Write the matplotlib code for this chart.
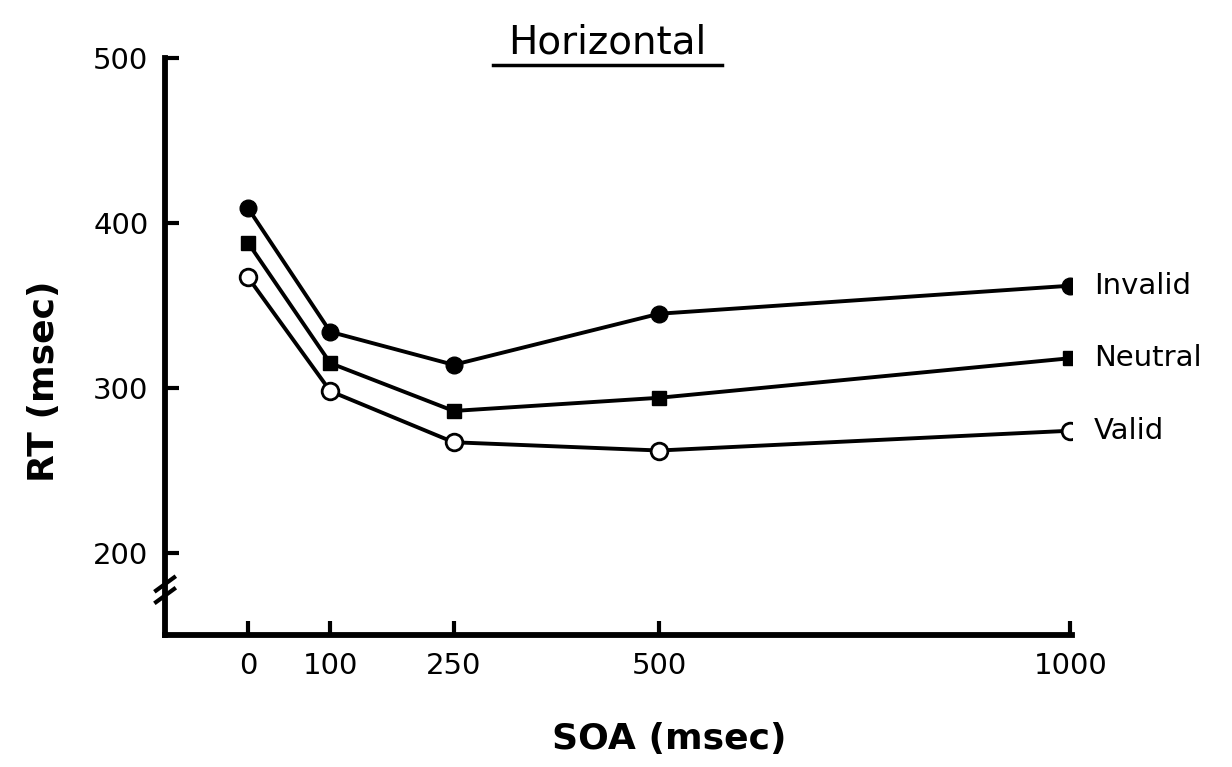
import matplotlib.pyplot as plt

soa = [0, 100, 250, 500, 1000]
invalid = [409, 334, 314, 345, 362]
neutral = [388, 315, 286, 294, 318]
valid = [367, 298, 267, 262, 274]
yticks = [200, 300, 400, 500]

plt.rcParams['font.family'] = ['DejaVu Sans']

fig = plt.figure(figsize=(12.32, 7.67), dpi=100)
ax = fig.add_axes([0.134, 0.172, 0.736, 0.752])

ax.plot(soa, invalid, '-o', color='black', lw=2.8, ms=12, mfc='black')
ax.plot(soa, neutral, '-s', color='black', lw=2.8, ms=10, mfc='black')
ax.plot(soa, valid, '-o', color='black', lw=2.8, ms=12, mfc='white', mew=2)

for name, vals in [('Invalid', invalid), ('Neutral', neutral), ('Valid', valid)]:
    ax.annotate(name, (soa[-1], vals[-1]), xytext=(17, 0), textcoords='offset points',
                va='center', ha='left', fontsize=21, annotation_clip=False)

ax.set_xlim(-101, 1002)
ax.set_ylim(150, 500)
ax.set_xticks(soa)
ax.set_xticklabels([str(s) for s in soa], fontsize=21)
ax.set_yticks(yticks)
ax.set_yticklabels([str(t) for t in yticks], fontsize=21)
ax.tick_params(direction='in', length=10, width=3, pad=12)

for s in ['top', 'right']:
    ax.spines[s].set_visible(False)
for s in ['left', 'bottom']:
    ax.spines[s].set_linewidth(4.2)

# axis break on the y spine
for dy in [0, 7]:
    ax.plot([-112, -90], [170 + dy, 178 + dy], color='black', lw=3, clip_on=False)

ax.set_xlabel('SOA (msec)', fontsize=26, fontweight='bold')
ax.xaxis.set_label_coords(0.556, -0.15)
ax.set_ylabel('RT (msec)', fontsize=26, fontweight='bold')
ax.yaxis.set_label_coords(-0.115, 0.44)

fig.text(0.493, 0.945, 'Horizontal', fontsize=28, ha='center', va='center')
fig.add_artist(plt.Line2D([0.4, 0.586], [0.915, 0.915], color='black', lw=2.5))

fig.savefig('out.png', dpi=100)
